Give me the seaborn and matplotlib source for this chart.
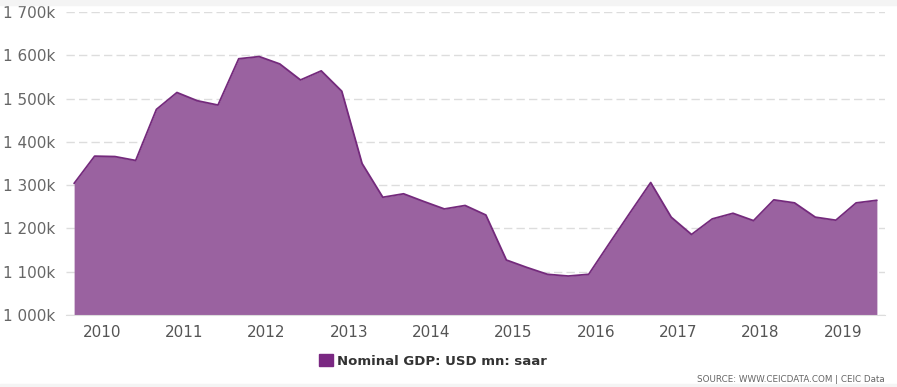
import pandas as pd
import numpy as np
import matplotlib
matplotlib.use("Agg")
import matplotlib.pyplot as plt
import matplotlib.dates as mdates
from matplotlib.patches import Rectangle
import seaborn as sns

# Nominal GDP, USD mn, seasonally adjusted annual rate (quarterly)
quarters = pd.date_range("2009-09-01", periods=40, freq="3MS")
gdp = [1304000, 1367000, 1366000, 1357000, 1475000, 1514000, 1495000, 1485000,
       1592000, 1597000, 1580000, 1543000, 1564000, 1517000, 1350000, 1272000,
       1280000, 1262000, 1245000, 1253000, 1231000, 1127000, 1110000, 1094000,
       1090000, 1094000, 1165000, 1236000, 1306000, 1226000, 1186000, 1222000,
       1235000, 1218000, 1266000, 1259000, 1226000, 1219000, 1259000, 1265000]
series_name = "Nominal GDP: USD mn: saar"
year_ticks = [pd.Timestamp(f"{y}-01-01") for y in range(2010, 2020)]
y_ticks = list(range(1000000, 1700001, 100000))

df = pd.DataFrame({"date": quarters, "gdp": gdp})

sns.set_style("white")
plt.rcParams["font.family"] = ["Liberation Sans Narrow", "DejaVu Sans"]

fig = plt.figure(figsize=(8.97, 3.87), dpi=100)
ax = fig.add_axes([66 / 897, 1 - 315 / 387, (885 - 66) / 897, (315 - 12) / 387])

# light grey bands at top and bottom of the card
fig.patches.append(Rectangle((0, 1 - 5 / 387), 1, 5 / 387, transform=fig.transFigure,
                             color="#f4f4f4", zorder=0))
fig.patches.append(Rectangle((0, 0), 1, 3 / 387, transform=fig.transFigure,
                             color="#f4f4f4", zorder=0))

fill_color = "#9a62a0"
line_color = "#742a7c"

ax.fill_between(df["date"], 1000000, df["gdp"], color=fill_color, linewidth=0, zorder=2)
sns.lineplot(data=df, x="date", y="gdp", ax=ax, color=line_color, linewidth=1.3, zorder=3)

pad = pd.Timedelta(days=36)
ax.set_xlim(quarters[0] - pad, quarters[-1] + pad)
ax.set_ylim(1000000, 1700000)

ax.set_yticks(y_ticks)
ax.set_yticklabels([f"{v // 1000000} {(v // 1000) % 1000:03d}k" for v in y_ticks])
ax.set_xticks(year_ticks)
ax.xaxis.set_major_formatter(mdates.DateFormatter("%Y"))

ax.grid(axis="y", color="#dddddd", linestyle=(0, (6, 3)), linewidth=1, zorder=1)
ax.grid(axis="x", visible=False)
for s in ["top", "right", "left"]:
    ax.spines[s].set_visible(False)
ax.spines["bottom"].set_color("#dddddd")
ax.tick_params(axis="y", length=0, pad=8, labelsize=11, labelcolor="#666666")
ax.tick_params(axis="x", length=0, pad=7, labelsize=11, labelcolor="#555555")
ax.set_xlabel("")
ax.set_ylabel("")

# legend
handle = Rectangle((0, 0), 1, 1, color="#7a2882")
fig.legend([handle], [series_name], loc="center", bbox_to_anchor=(433 / 897, 1 - 361 / 387),
           frameon=False, handlelength=1.0, handleheight=1.0, handletextpad=0.3,
           prop={"size": 9.5, "weight": "semibold"}, labelcolor="#333333")

fig.text(885 / 897, 1 - 379 / 387, "SOURCE: WWW.CEICDATA.COM | CEIC Data", ha="right",
         va="center", fontsize=6.3, color="#666666")

fig.savefig("out.png", dpi=100)
